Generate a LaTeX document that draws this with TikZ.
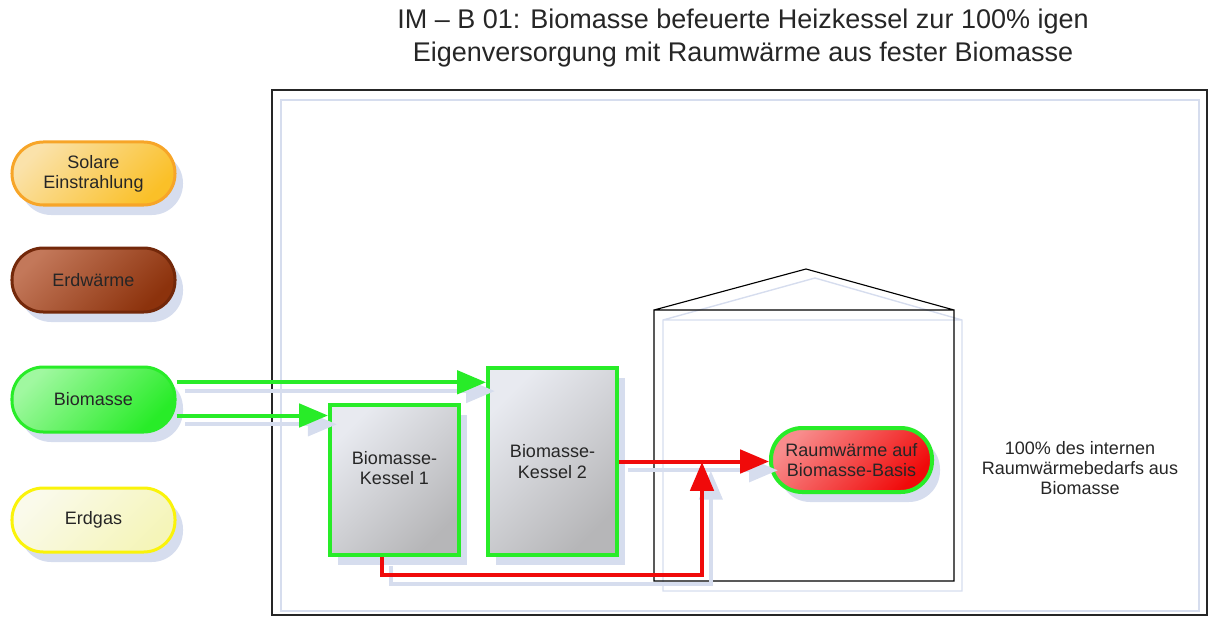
\documentclass[tikz,border=0pt]{standalone}
\usepackage{fontspec}
\setmainfont{Liberation Sans}
\usetikzlibrary{fit,shadows,arrows.meta}

\definecolor{shadowblue}{RGB}{214,221,238}
\definecolor{flowgreen}{RGB}{40,236,40}
\definecolor{flowred}{RGB}{240,10,10}
\definecolor{solardraw}{RGB}{247,165,40}
\definecolor{solarlight}{RGB}{250,226,170}
\definecolor{solarfill}{RGB}{250,192,40}
\definecolor{erddraw}{RGB}{115,40,10}
\definecolor{erdlight}{RGB}{195,120,90}
\definecolor{erdfill}{RGB}{140,50,12}
\definecolor{biolight}{RGB}{160,248,160}
\definecolor{gasdraw}{RGB}{250,243,10}
\definecolor{gaslight}{RGB}{250,250,235}
\definecolor{gasfill}{RGB}{245,245,185}
\definecolor{kessellight}{RGB}{232,234,240}
\definecolor{kesselfill}{RGB}{182,182,184}
\definecolor{heatlight}{RGB}{248,140,140}

\newcommand\boxfont{\fontsize{12.8}{14.4}\selectfont}
\newcommand\headfont{\fontsize{19.2}{23.4}\selectfont}

\begin{document}
\begin{tikzpicture}[x=0.025cm, y=-0.025cm,
    every label/.style={font=\boxfont, align=center, text=black!85},
    shadowed/.style={drop shadow={fill=shadowblue, opacity=1, shadow xshift=0.2cm, shadow yshift=-0.25cm}},
    pill/.style={rounded corners=0.78cm, line width=0.075cm, inner sep=0pt, shadowed, shading angle=45},
    kessel/.style={draw=flowgreen, line width=0.1cm, inner sep=0pt, shadowed,
        top color=kessellight, bottom color=kesselfill, shading angle=45},
    flow/.style={line width=0.1cm, -{Triangle[length=0.72cm,width=0.58cm]},
        preaction={draw=shadowblue, line width=0.1cm, transform canvas={xshift=0.22cm, yshift=-0.22cm}}},
]
    \useasboundingbox (0,0) rectangle (1209,617);

    \node[font=\headfont, align=center, text=black!85] (title) at (743,38)
        {IM -- B 01: Biomasse befeuerte Heizkessel zur 100\% igen\\Eigenversorgung mit Raumwärme aus fester Biomasse};

    % frame and house
    \draw[shadowblue, line width=1.2pt] (281,100) rectangle (1199,611);
    \draw[black!85, line width=1.5pt] (272,90) rectangle (1207,615);
    \draw[shadowblue, line width=1pt] (663,320) rectangle (962,591) (663,320) -- (815,278) -- (962,320);
    \draw[black, line width=0.8pt] (654,310) rectangle (954,581) (654,310) -- (806,269) -- (954,310);

    % energy sources
    \node[pill, draw=solardraw, top color=solarlight, bottom color=solarfill, shading angle=45,
        fit={(12,142) (175,205)}, label=center:{Solare\\Einstrahlung}] (solar) {};
    \node[pill, draw=erddraw, top color=erdlight, bottom color=erdfill, shading angle=45,
        fit={(12,248) (175,312)}, label=center:{Erdwärme}] (erd) {};
    \node[pill, draw=flowgreen, top color=biolight, bottom color=flowgreen, shading angle=45,
        fit={(12,367) (175,432)}, label=center:{Biomasse}] (bio) {};
    \node[pill, draw=gasdraw, top color=gaslight, bottom color=gasfill, shading angle=45,
        fit={(12,488) (175,552)}, label=center:{Erdgas}] (gas) {};

    % boilers
    \node[kessel, fit={(330,405) (459,555)}, label={[yshift=0.3cm]center:{Biomasse-\\Kessel 1}}] (k1) {};
    \node[kessel, fit={(488,368) (617,555)}, label=center:{Biomasse-\\Kessel 2}] (k2) {};

    \node[pill, draw=flowgreen, line width=0.1cm, top color=heatlight, bottom color=flowred, shading angle=45,
        fit={(771,428) (932,492)}, label=center:{Raumwärme auf\\Biomasse-Basis}] (heat) {};

    \node[font=\boxfont, align=center, text=black!85] (share) at (1080,468)
        {100\% des internen\\Raumwärmebedarfs aus\\Biomasse};

    \coordinate (tee) at (702,462);
    \coordinate (bend) at (702,575);

    \draw[flow, flowgreen] ([yshift=0.43cm]bio.east) -- ([yshift=0.43cm]bio.east -| k2.west);
    \draw[flow, flowgreen] ([yshift=-0.4cm]bio.east) -- ([yshift=-0.4cm]bio.east -| k1.west);
    \draw[flow, flowred] (k2.east) -- (k2.east -| heat.west);
    \draw[flow, flowred] ([xshift=-0.31cm]k1.south) |- (bend) -- (tee);
\end{tikzpicture}
\end{document}
